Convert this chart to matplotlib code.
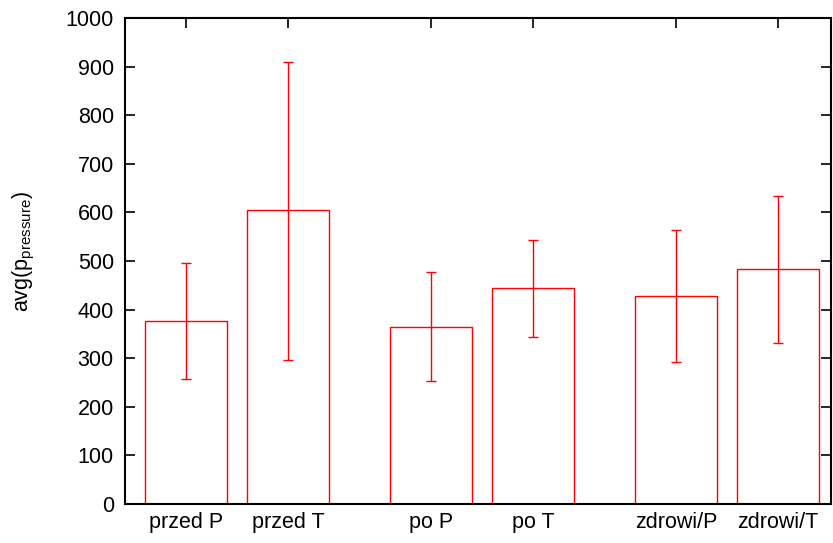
import matplotlib
matplotlib.use('Agg')
import matplotlib.pyplot as plt
import numpy as np

plt.rcParams['font.family'] = ['Liberation Sans', 'DejaVu Sans']
plt.rcParams['mathtext.default'] = 'regular'

# data
labels = ['przed P', 'przed T', 'po P', 'po T', 'zdrowi/P', 'zdrowi/T']
means = [377, 604, 365, 444, 427, 483]
err_lo = [258, 296, 254, 344, 292, 332]
err_hi = [496, 910, 477, 544, 563, 633]

# clusters of two bars, gap between clusters
group = np.arange(len(labels)) // 2
member = np.arange(len(labels)) % 2
x = group * 2.4 + member

means = np.array(means)
yerr = [means - np.array(err_lo), np.array(err_hi) - means]

fig = plt.figure(figsize=(8.33, 5.43), dpi=100)
ax = fig.add_axes([0.150, 0.0718, 0.8476, 0.8951])

ax.bar(x, means, width=0.8, facecolor='white', edgecolor='red', linewidth=1.0, zorder=2)
ax.errorbar(x, means, yerr=yerr, fmt='none', ecolor='red', elinewidth=1.0,
            capsize=3.6, capthick=1.0, zorder=3)

ax.set_xlim(-0.6, 6.32)
ax.set_ylim(0, 1000)
ax.set_yticks(np.arange(0, 1001, 100))
ax.set_xticks(x)
ax.set_xticklabels(labels)

for s in ax.spines.values():
    s.set_linewidth(1.5)
    s.set_zorder(4)

ax.tick_params(axis='y', direction='in', length=7, width=1.2, labelsize=15.5,
               right=True, pad=8)
ax.tick_params(axis='x', direction='in', length=7, width=1.2, labelsize=15.5,
               top=True, pad=6)

ax.set_ylabel('avg(p$_{pressure}$)', fontsize=15.5)
ax.yaxis.set_label_coords(-0.124, 0.52)

fig.savefig('out.png', dpi=100)
